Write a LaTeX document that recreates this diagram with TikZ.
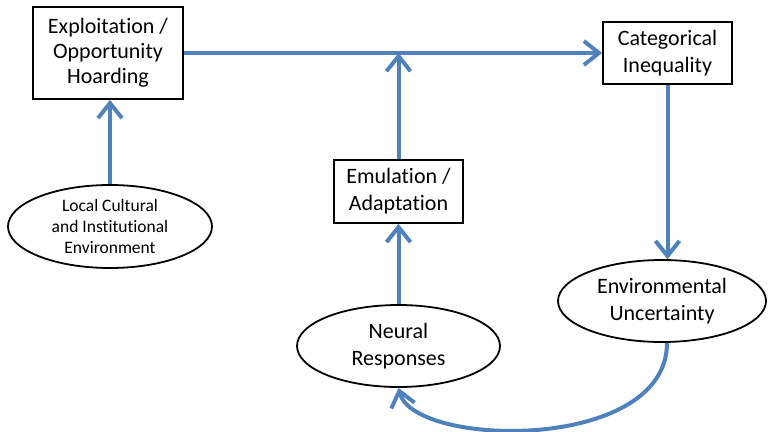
\documentclass[tikz,border=0pt]{standalone}
\usepackage{fontspec}
\setmainfont{Carlito}[Ligatures=NoCommon]
\usetikzlibrary{shapes.geometric,arrows.meta}
\definecolor{linkblue}{RGB}{79,129,189}

\begin{document}
\begin{tikzpicture}[x=1pt,y=-1pt]
				\tikzstyle{box}=[draw,line width=1.8pt,rectangle,inner sep=0pt,align=center,font=\fontsize{22}{25}\selectfont]
				\tikzstyle{oval}=[draw,line width=1.8pt,ellipse,inner sep=0pt,align=center,font=\fontsize{22}{27}\selectfont]
				\tikzstyle{link}=[linkblue,line width=4pt,-{Straight Barb[length=15pt,width=24pt]}]
				\useasboundingbox (0,0) rectangle (768,431);
				\node[box,minimum width=150pt,minimum height=92pt] (exploit) at (108,53) {Exploitation /\\Opportunity\\Hoarding};
				\node[box,minimum width=129pt,minimum height=62pt,font=\fontsize{22}{27}\selectfont] (categ) at (667.5,53) {Categorical\\Inequality};
				\node[box,minimum width=129pt,minimum height=63pt,font=\fontsize{22}{27}\selectfont] (emul) at (398.5,191.5) {Emulation /\\Adaptation};
				\node[oval,minimum width=204pt,minimum height=83pt,font=\fontsize{17.5}{21}\selectfont] (local) at (110,226.5) {Local Cultural\\and Institutional\\Environment};
				\node[oval,minimum width=203pt,minimum height=82pt] (neural) at (398.5,346) {Neural\\Responses};
				\node[oval,minimum width=208pt,minimum height=82pt] (env) at (662,301) {Environmental\\Uncertainty};
				\coordinate (join) at (398.5,53);
				\draw[link] (local.north) -- (local.north |- exploit.south);
				\draw[link] (exploit) -- (categ);
				\draw[link] (neural) -- (emul);
				\draw[link] (emul) -- (join);
				\draw[link] (categ.south) -- (categ.south |- env.north);
				\draw[link] ([xshift=5pt]env.south) .. controls +(0,110) and +(15,60) .. (neural.south);
\end{tikzpicture}
\end{document}
